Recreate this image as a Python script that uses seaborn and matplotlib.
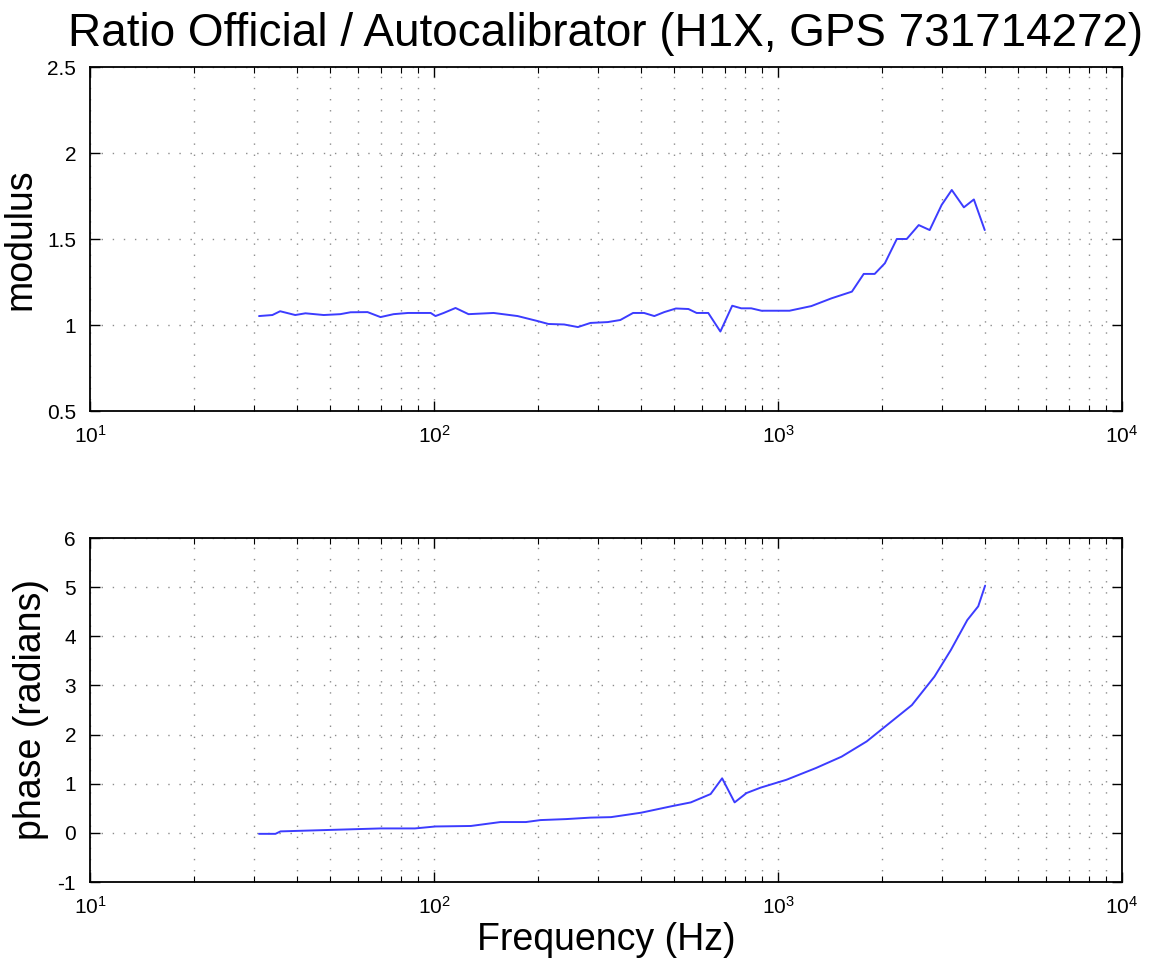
import numpy as np
import pandas as pd
import matplotlib
matplotlib.use("Agg")
import matplotlib.pyplot as plt
import matplotlib.ticker as mticker
import seaborn as sns

# ---- data ----
freq_mod = [31, 33.9, 35.7, 39.5, 42.3, 47.8, 53.4, 57.2, 64.1, 69.9, 76.3, 84, 97.8, 101,
            106.7, 115.5, 126, 149, 175, 200, 215, 239, 262, 285, 320, 348, 379, 408, 437,
            467, 505, 549, 580, 627, 680, 736, 782, 836, 895, 1080, 1250, 1430, 1640, 1775,
            1910, 2045, 2215, 2367, 2565, 2760, 2990, 3200, 3470, 3710, 3990]
modulus = [1.052, 1.058, 1.08, 1.058, 1.068, 1.058, 1.063, 1.074, 1.075, 1.046, 1.063, 1.07,
           1.07, 1.052, 1.07, 1.099, 1.063, 1.07, 1.052, 1.023, 1.006, 1.003, 0.988, 1.012,
           1.017, 1.029, 1.07, 1.07, 1.052, 1.075, 1.096, 1.093, 1.07, 1.07, 0.962, 1.112,
           1.097, 1.097, 1.083, 1.083, 1.11, 1.155, 1.194, 1.297, 1.297, 1.359, 1.5, 1.5,
           1.581, 1.552, 1.698, 1.785, 1.684, 1.73, 1.552]

freq_phase = [31, 34.6, 35.8, 50, 70, 88, 101, 128, 156, 185, 204, 242, 285, 327, 400, 489,
              558, 637, 688, 748, 810, 890, 1058, 1290, 1530, 1810, 2080, 2450, 2850, 3180,
              3550, 3820, 4000]
phase = [-0.02, -0.02, 0.03, 0.06, 0.09, 0.09, 0.13, 0.14, 0.22, 0.22, 0.26, 0.28, 0.31,
         0.32, 0.41, 0.54, 0.62, 0.79, 1.11, 0.62, 0.81, 0.92, 1.08, 1.32, 1.55, 1.86, 2.2,
         2.6, 3.18, 3.72, 4.33, 4.61, 5.03]

title = "Ratio Official / Autocalibrator (H1X, GPS 731714272)"
xlabel = "Frequency (Hz)"
ylabel_top = "modulus"
ylabel_bottom = "phase (radians)"

df_mod = pd.DataFrame({"freq": freq_mod, "val": modulus})
df_ph = pd.DataFrame({"freq": freq_phase, "val": phase})

sns.set_style("ticks")
plt.rcParams["font.family"] = ["Liberation Sans", "DejaVu Sans"]
plt.rcParams["mathtext.fontset"] = "custom"
plt.rcParams["mathtext.rm"] = "Liberation Sans"
plt.rcParams["mathtext.it"] = "Liberation Sans:italic"
plt.rcParams["axes.unicode_minus"] = False
plt.rcParams["text.color"] = "black"
plt.rcParams["axes.labelcolor"] = "black"

fig = plt.figure(figsize=(11.56, 9.66), dpi=100)
W, H = 1156, 966
def rect(l, t, r, b):
    return [l / W, 1 - b / H, (r - l) / W, (b - t) / H]

ax1 = fig.add_axes(rect(90, 67, 1122, 411))
ax2 = fig.add_axes(rect(90, 538, 1122, 882))

line_color = "#3c3cff"
sns.lineplot(data=df_mod, x="freq", y="val", ax=ax1, color=line_color, lw=1.4, estimator=None)
sns.lineplot(data=df_ph, x="freq", y="val", ax=ax2, color=line_color, lw=1.4, estimator=None)

grid_ls = (0, (1, 7))
for ax, ylim, yticks, ylab in [
    (ax1, (0.5, 2.5), [0.5, 1, 1.5, 2, 2.5], ylabel_top),
    (ax2, (-1, 6), [-1, 0, 1, 2, 3, 4, 5, 6], ylabel_bottom),
]:
    ax.set_xscale("log")
    ax.set_xlim(10, 1e4)
    ax.set_ylim(*ylim)
    ax.set_yticks(yticks)
    ax.yaxis.set_major_formatter(mticker.FormatStrFormatter("%g"))
    ax.xaxis.set_major_locator(mticker.LogLocator(base=10, numticks=10))
    ax.xaxis.set_minor_locator(mticker.LogLocator(base=10, subs=np.arange(2, 10), numticks=50))
    ax.xaxis.set_minor_formatter(mticker.NullFormatter())
    ax.grid(True, which="major", axis="both", linestyle=grid_ls, color="#8c8c8c", lw=1.0)
    ax.grid(True, which="minor", axis="x", linestyle=grid_ls, color="#8c8c8c", lw=1.0)
    ax.tick_params(which="both", direction="in", top=True, right=True, labelsize=15,
                   colors="black")
    ax.tick_params(which="major", length=7, width=1.0, pad=10)
    ax.tick_params(which="minor", length=4, width=0.8)
    for s in ax.spines.values():
        s.set_visible(True)
        s.set_linewidth(1.3)
        s.set_color("black")
    ax.set_ylabel(ylab, fontsize=27, labelpad=6)
    ax.set_xlabel("")

ax1.set_title(title, fontsize=33, pad=15)
ax2.set_xlabel(xlabel, fontsize=27, labelpad=3)

fig.savefig("out.png", dpi=100, facecolor="white")
